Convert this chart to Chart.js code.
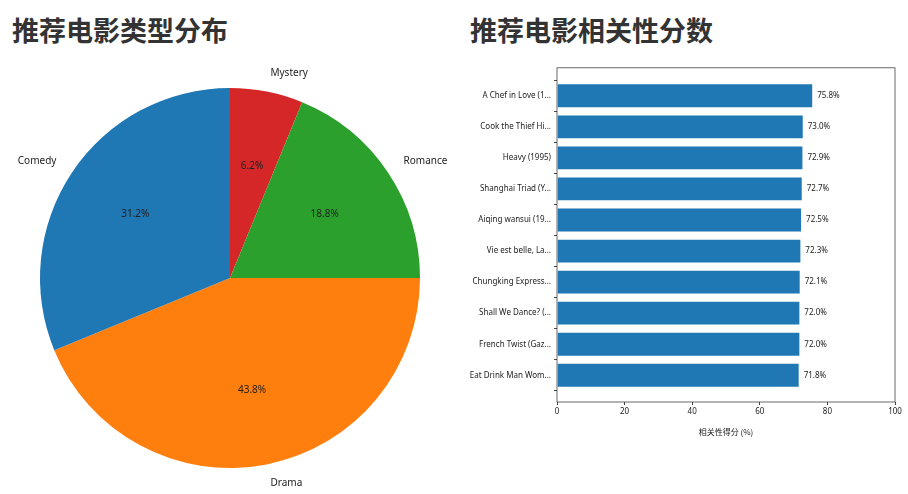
<!DOCTYPE html>
<html>
<head>
<meta charset="utf-8">
<script src="https://cdn.jsdelivr.net/npm/chart.js@4"></script>
<style>
  body { margin: 0; background: #fff; width: 908px; height: 494px; position: relative; overflow: hidden; font-family: "Noto Sans CJK SC", "Noto Sans", sans-serif; }
  h1 { position: absolute; margin: 0; font-size: 27px; font-weight: 700; color: #333; top: 10px; }
  #pieWrap { position: absolute; left: 0; top: 60px; width: 460px; height: 434px; }
  #barWrap { position: absolute; left: 460px; top: 60px; width: 448px; height: 377px; }
</style>
</head>
<body>
<h1 style="left:12px">推荐电影类型分布</h1>
<h1 style="left:470px">推荐电影相关性分数</h1>
<div id="pieWrap"><canvas id="pieChart"></canvas></div>
<div id="barWrap"><canvas id="barChart"></canvas></div>
<script>
// pie data (clockwise from 12 o'clock)
const genres = ['Mystery', 'Romance', 'Drama', 'Comedy']
const genreShares = [6.2, 18.8, 43.8, 31.2]
const genreColors = ['#d62728', '#2ca02c', '#ff7f0e', '#1f77b4']

// bar data
const movies = ['A Chef in Love (1...', 'Cook the Thief Hi...', 'Heavy (1995)', 'Shanghai Triad (Y...',
  'Aiqing wansui (19...', 'Vie est belle, La...', 'Chungking Express...', 'Shall We Dance? (...',
  'French Twist (Gaz...', 'Eat Drink Man Wom...']
const scores = [75.8, 73.0, 72.9, 72.7, 72.5, 72.3, 72.1, 72.0, 72.0, 71.8]
const xTicks = [0, 20, 40, 60, 80, 100]

const font = '"Noto Sans", "Noto Sans CJK SC", sans-serif'

const pieLabels = {
  id: 'pieLabels',
  afterDatasetsDraw(chart) {
    const ctx = chart.ctx
    ctx.save()
    ctx.fillStyle = '#222'
    ctx.textAlign = 'center'
    ctx.textBaseline = 'middle'
    ctx.font = '10px ' + font
    chart.getDatasetMeta(0).data.forEach((arc, i) => {
      const p = arc.getProps(['x', 'y', 'startAngle', 'endAngle', 'outerRadius'], true)
      const a = (p.startAngle + p.endAngle) / 2
      const r1 = p.outerRadius * 0.6
      ctx.fillText(genreShares[i].toFixed(1) + '%', p.x + Math.cos(a) * r1, p.y + Math.sin(a) * r1)
      const r2 = p.outerRadius * 1.1
      const lx = p.x + Math.cos(a) * r2, ly = p.y + Math.sin(a) * r2
      ctx.textAlign = Math.abs(Math.cos(a)) < 0.15 ? 'center' : (Math.cos(a) > 0 ? 'left' : 'right')
      ctx.fillText(genres[i], lx, ly)
      ctx.textAlign = 'center'
    })
    ctx.restore()
  }
}

new Chart(document.getElementById('pieChart'), {
  type: 'pie',
  data: { labels: genres, datasets: [{ data: genreShares, backgroundColor: genreColors, borderWidth: 0 }] },
  options: {
    responsive: true, maintainAspectRatio: false, animation: false,
    layout: { padding: { left: 40, right: 40, top: 28, bottom: 26 } },
    plugins: { legend: { display: false }, tooltip: { enabled: false } }
  },
  plugins: [pieLabels]
})

const barExtras = {
  id: 'barExtras',
  afterDatasetsDraw(chart) {
    const ctx = chart.ctx, a = chart.chartArea
    ctx.save()
    ctx.strokeStyle = '#444'
    ctx.lineWidth = 0.8
    ctx.strokeRect(a.left, a.top, a.right - a.left, a.bottom - a.top)
    ctx.fillStyle = '#222'
    ctx.font = '8px ' + font
    ctx.textBaseline = 'middle'
    chart.getDatasetMeta(0).data.forEach((bar, i) => {
      ctx.fillText(scores[i].toFixed(1) + '%', bar.x + 4, bar.y)
    })
    ctx.restore()
  }
}

new Chart(document.getElementById('barChart'), {
  type: 'bar',
  data: {
    datasets: [{
      data: scores.map((v, i) => ({ x: v, y: i })),
      backgroundColor: '#1f77b4', borderColor: '#ffffff', borderWidth: 1,
      barPercentage: 0.8, categoryPercentage: 1
    }]
  },
  options: {
    indexAxis: 'y', responsive: true, maintainAspectRatio: false, animation: false,
    layout: { padding: { top: 6, right: 13, left: 0, bottom: 0 } },
    plugins: { legend: { display: false }, tooltip: { enabled: false } },
    scales: {
      y: {
        type: 'linear', reverse: true, min: -0.9, max: 9.86, offset: false,
        afterFit(s) { s.width = 97 },
        afterBuildTicks(s) { s.ticks = movies.map((m, i) => ({ value: i })) },
        ticks: { callback: v => movies[v], color: '#222', font: { size: 8, family: font }, padding: 3 },
        grid: { drawOnChartArea: false, tickLength: 3, color: '#444' },
        border: { display: false }
      },
      x: {
        min: 0, max: 100,
        afterFit(s) { s.height = 35 },
        afterBuildTicks(s) { s.ticks = xTicks.map(v => ({ value: v })) },
        ticks: { color: '#222', font: { size: 8, family: font }, padding: 2, maxRotation: 0 },
        grid: { drawOnChartArea: false, tickLength: 3, color: '#444' },
        border: { display: false },
        title: { display: true, text: '相关性得分 (%)', color: '#222', font: { size: 8, family: '"Noto Sans CJK SC", sans-serif' }, padding: 0 }
      }
    }
  },
  plugins: [barExtras]
})
</script>
</body>
</html>
